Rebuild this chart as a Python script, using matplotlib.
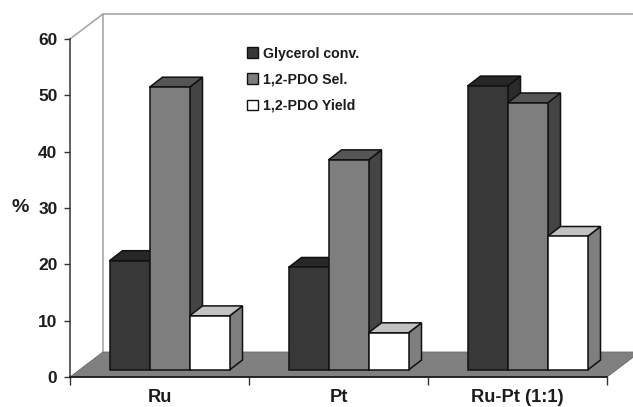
import matplotlib
matplotlib.use('Agg')
import matplotlib.pyplot as plt
from matplotlib.patches import Patch, Polygon

plt.rcParams['font.family'] = ['Liberation Sans', 'DejaVu Sans']
plt.rcParams['font.weight'] = 'bold'

categories = ['Ru', 'Pt', 'Ru-Pt (1:1)']
series_names = ['Glycerol conv.', '1,2-PDO Sel.', '1,2-PDO Yield']
glycerol_conv = [19.4, 18.2, 50.4]
pdo_sel = [50.2, 37.3, 47.4]
pdo_yield = [9.6, 6.6, 23.7]
y_ticks = [0, 10, 20, 30, 40, 50, 60]

FIG_W, FIG_H = 633, 407
LEFT, RIGHT, TOP, BOTTOM = 70, 607, 39, 377

# pixel sizes of the fake 3d projection
PX_X = (RIGHT - LEFT) / 3.0
PX_Y = (BOTTOM - TOP) / 60.0
WALL_DX, WALL_DY = 33 / PX_X, 25 / PX_Y
BASE_DX, BASE_DY = 10 / PX_X, 7 / PX_Y
BAR_DX, BAR_DY = 13 / PX_X, 10 / PX_Y
BAR_W = 40 / PX_X

# front, top, side colours per series
face_colors = [('#383838', '#272727', '#2b2b2b'),
               ('#7e7e7e', '#555555', '#444444'),
               ('#ffffff', '#c2c2c2', '#7f7f7f')]
edge = '#111111'


def addBar(axis, x, value, colors):
    front, top, side = colors
    y0 = BASE_DY
    y1 = BASE_DY + value
    axis.add_patch(Polygon([(x + BAR_W, y0), (x + BAR_W + BAR_DX, y0 + BAR_DY),
                            (x + BAR_W + BAR_DX, y1 + BAR_DY), (x + BAR_W, y1)],
                           facecolor=side, edgecolor=edge, lw=1.1, clip_on=False, zorder=3))
    axis.add_patch(Polygon([(x, y1), (x + BAR_W, y1), (x + BAR_W + BAR_DX, y1 + BAR_DY),
                            (x + BAR_DX, y1 + BAR_DY)],
                           facecolor=top, edgecolor=edge, lw=1.1, clip_on=False, zorder=3))
    axis.add_patch(Polygon([(x, y0), (x + BAR_W, y0), (x + BAR_W, y1), (x, y1)],
                           facecolor=front, edgecolor=edge, lw=1.1, clip_on=False, zorder=3))


fig = plt.figure(figsize=(FIG_W / 100, FIG_H / 100), dpi=100)
ax = fig.add_axes([LEFT / FIG_W, 1 - BOTTOM / FIG_H, (RIGHT - LEFT) / FIG_W, (BOTTOM - TOP) / FIG_H])
ax.set_xlim(0, 3)
ax.set_ylim(0, 60)

# back wall outline and floor
wall_color = '#a8a8a8'
ax.plot([0, WALL_DX, WALL_DX], [60, 60 + WALL_DY, WALL_DY], color=wall_color, lw=1.2, clip_on=False, zorder=1)
ax.plot([WALL_DX, 3 + WALL_DX], [60 + WALL_DY, 60 + WALL_DY], color=wall_color, lw=1.2, clip_on=False, zorder=1)
ax.add_patch(Polygon([(0, 0), (3, 0), (3 + WALL_DX, WALL_DY), (WALL_DX, WALL_DY)],
                     facecolor='#808080', edgecolor='#6a6a6a', lw=0.6, clip_on=False, zorder=2))

for i in range(len(categories)):
    left = i + 0.5 + BASE_DX - 1.5 * BAR_W
    values = [glycerol_conv[i], pdo_sel[i], pdo_yield[i]]
    for j, value in enumerate(values):
        addBar(ax, left + j * BAR_W, value, face_colors[j])

for name in ['top', 'right']:
    ax.spines[name].set_visible(False)
ax.spines['left'].set_color('#333333')
ax.spines['bottom'].set_color('#111111')
ax.spines['left'].set_linewidth(1.1)
ax.spines['bottom'].set_linewidth(1.2)
ax.spines['left'].set_zorder(4)
ax.spines['bottom'].set_zorder(4)

ax.set_yticks(y_ticks)
ax.tick_params(axis='y', length=4, width=1, color='#333333', labelsize=12.5, labelcolor='#1c1c1c', pad=5)
ax.set_xticks([0, 1, 2, 3])
ax.set_xticklabels([])
ax.tick_params(axis='x', length=6, width=1, color='#333333')
ax.set_xticks([0.5, 1.5, 2.5], labels=categories, minor=True)
ax.tick_params(axis='x', which='minor', length=0, labelsize=13.2, labelcolor='#1c1c1c', pad=9)

ax.text(-0.28, 30, '%', fontsize=14, color='#1c1c1c', ha='center', va='center')

handles = [Patch(facecolor=c[0], edgecolor=edge, lw=1) for c in face_colors]
ax.legend(handles, series_names, frameon=False, fontsize=10.2, handlelength=0.8, handleheight=0.8,
          handletextpad=0.35, labelspacing=0.85, labelcolor='#1c1c1c', borderpad=0, borderaxespad=0,
          loc='upper left', bbox_to_anchor=(0.329, 0.977))

fig.savefig('out.png', dpi=100)
